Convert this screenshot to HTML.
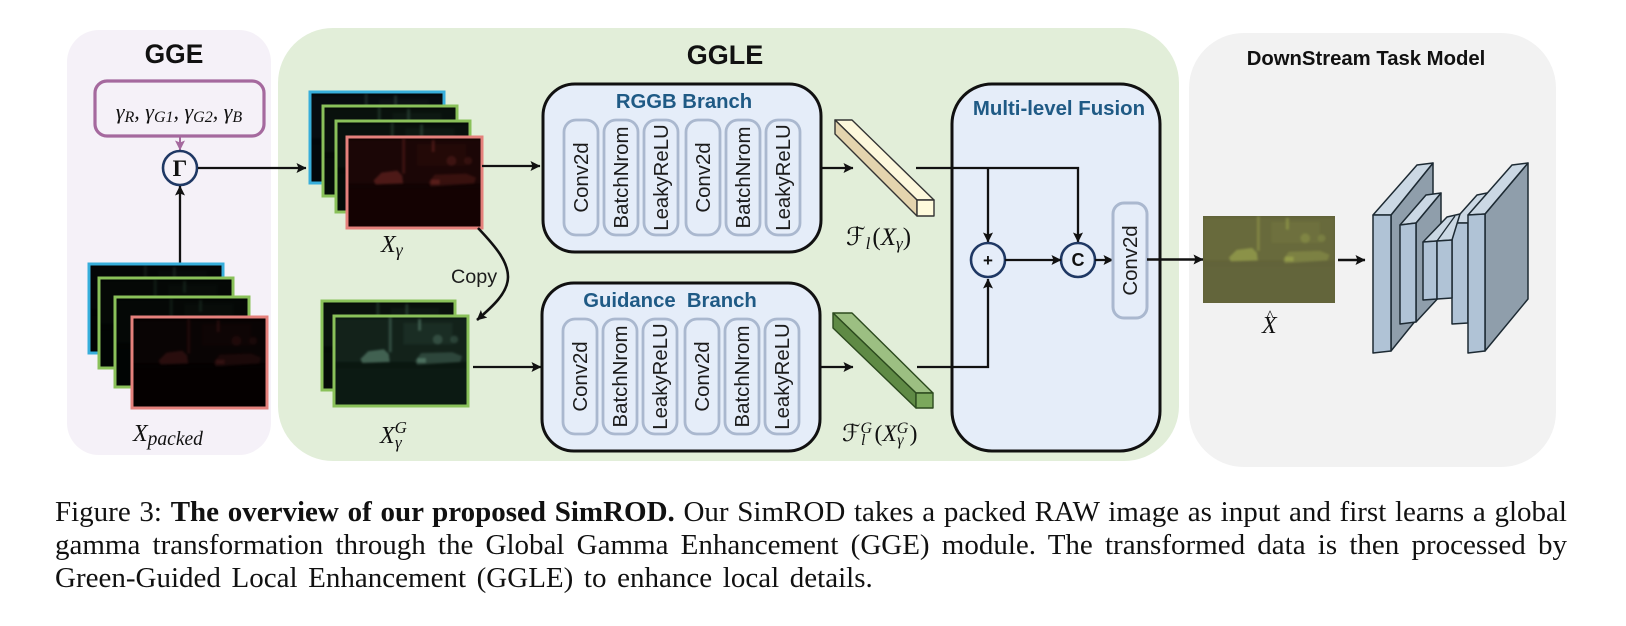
<!DOCTYPE html>
<html><head><meta charset="utf-8">
<style>
html,body{margin:0;padding:0;background:#fff;width:1626px;height:626px;overflow:hidden}
svg{position:absolute;left:0;top:0}
.cap{position:absolute;left:55px;width:1512px;font:29px/33px "Liberation Serif",serif;color:#111;text-align:justify;text-align-last:justify;white-space:nowrap}
.s{font-family:"Liberation Sans",sans-serif}
.m{font-family:"Liberation Serif","DejaVu Serif",serif;font-style:italic;fill:#111}
.t{font-family:"Liberation Sans",sans-serif;font-weight:bold;fill:#111}
.b{font-family:"Liberation Sans",sans-serif;font-weight:bold;fill:#1f5a85}
.p{fill:#e5edf9;stroke:#aab8cf;stroke-width:2.8}
.l{font-family:"Liberation Sans",sans-serif;font-size:20.4px;fill:#1c1c1c}
.box{fill:#e5edf9;stroke:#111;stroke-width:3}
.ln{fill:none;stroke:#111;stroke-width:2.3}
.c{fill:#e5edf9;stroke:#1f3864;stroke-width:2.6}
.f{fill:#b0c3d6;stroke:#1d2a33;stroke-width:1.5;stroke-linejoin:round}
.tp{fill:#cbd8e4;stroke:#1d2a33;stroke-width:1.5;stroke-linejoin:round}
.sd{fill:#8f9eab;stroke:#1d2a33;stroke-width:1.5;stroke-linejoin:round}
</style></head><body>
<svg width="1626" height="626" viewBox="0 0 1626 626" xmlns="http://www.w3.org/2000/svg">
<defs>
<filter id="bl" x="-10%" y="-10%" width="120%" height="120%"><feGaussianBlur stdDeviation="1.1"/></filter>
<marker id="a" viewBox="0 0 10 10" refX="9.5" refY="5" markerWidth="10" markerHeight="10" markerUnits="userSpaceOnUse" orient="auto"><path d="M0 0L10 5L0 10L2 5Z" fill="#111"/></marker>
<marker id="ap" viewBox="0 0 10 10" refX="9.5" refY="5" markerWidth="10" markerHeight="10" markerUnits="userSpaceOnUse" orient="auto"><path d="M0 0L10 5L0 10L2 5Z" fill="#a5699e"/></marker>
<symbol id="sc" viewBox="0 0 135 90" overflow="hidden">
<g filter="url(#bl)" fill="currentColor">
<rect x="55" y="0" width="3" height="36" opacity=".4"/>
<rect x="85" y="2" width="3" height="12" opacity=".5"/>
<rect x="0" y="2" width="135" height="44" opacity=".1"/>
<path d="M26 43L34 35L50 33L55 38L56 46L28 47Z" opacity=".6"/>
<path d="M82 45L88 37L120 36L130 40L128 46L84 49Z" opacity=".35"/>
<rect x="84" y="42" width="9" height="5" opacity=".6"/>
<circle cx="105" cy="23" r="5" opacity=".35"/><circle cx="122" cy="23" r="4" opacity=".3"/>
<rect x="70" y="6" width="50" height="22" opacity=".1"/>
<rect x="0" y="52" width="135" height="38" opacity=".03"/>
</g>
</symbol>
</defs>

<!-- panels -->
<rect x="67" y="30" width="204" height="425" rx="32" fill="#f5f1f8"/>
<rect x="278" y="28" width="901" height="433" rx="55" fill="#e2eed9"/>
<rect x="1189" y="33" width="367" height="434" rx="55" fill="#f2f2f2"/>
<text x="174" y="63" text-anchor="middle" class="t" font-size="26.400">GGE</text>
<text x="725" y="64" text-anchor="middle" class="t" font-size="27">GGLE</text>
<text x="1366" y="65" text-anchor="middle" class="t" font-size="20.300">DownStream Task Model</text>

<!-- gamma -->
<rect x="95" y="81" width="169" height="55" rx="12" fill="#f5f1f8" stroke="#a5699e" stroke-width="3.2"/>
<text x="179" y="119" text-anchor="middle" class="m" font-size="22">γ<tspan font-size="16" dy="3">R</tspan><tspan dy="-3">, γ</tspan><tspan font-size="16" dy="3">G1</tspan><tspan dy="-3">, γ</tspan><tspan font-size="16" dy="3">G2</tspan><tspan dy="-3">, γ</tspan><tspan font-size="16" dy="3">B</tspan></text>
<line x1="180" y1="136" x2="180" y2="150" stroke="#a5699e" stroke-width="2" marker-end="url(#ap)"/>
<circle cx="180" cy="168" r="17" fill="#f5f1f8" stroke="#1f3864" stroke-width="2.6"/>
<text x="180" y="176" text-anchor="middle" font-family="Liberation Serif,serif" font-weight="bold" font-size="23" fill="#111">Γ</text>
<line class="ln" x1="180" y1="263" x2="180" y2="186" marker-end="url(#a)"/>
<line class="ln" x1="198" y1="168" x2="306" y2="168" marker-end="url(#a)"/>

<!-- X packed stack -->
<g stroke-width="3">
<rect x="89" y="264" width="134" height="89" fill="#010203" stroke="#37aedb"/>
<svg x="90" y="265" width="132" height="87" color="#5a7a68" opacity=".4"><use href="#sc" width="132" height="87"/></svg>
<rect x="99" y="278" width="134" height="90" fill="#020403" stroke="#8ac15a"/>
<svg x="100" y="279" width="132" height="88" color="#4a7a5c" opacity=".4"><use href="#sc" width="132" height="88"/></svg>
<rect x="115" y="297" width="134" height="90" fill="#020403" stroke="#8ac15a"/>
<svg x="116" y="298" width="132" height="88" color="#4a7a5c" opacity=".4"><use href="#sc" width="132" height="88"/></svg>
<rect x="132" y="317" width="135" height="91" fill="#040101" stroke="#e5817c"/>
<svg x="133" y="318" width="133" height="89" color="#6e2424" opacity=".55"><use href="#sc" width="133" height="89"/></svg>
</g>
<text x="133" y="441" class="m" font-size="24">X<tspan font-size="19.500" dy="4">packed</tspan></text>

<!-- X gamma stack -->
<g stroke-width="3">
<rect x="310" y="92" width="134" height="91" fill="#02060a" stroke="#37aedb"/>
<svg x="311" y="93" width="132" height="89" color="#5a7a68" opacity=".6"><use href="#sc" width="132" height="89"/></svg>
<rect x="323" y="106" width="134" height="90" fill="#040a07" stroke="#8ac15a"/>
<svg x="324" y="107" width="132" height="88" color="#5a8a6c" opacity=".6"><use href="#sc" width="132" height="88"/></svg>
<rect x="336" y="121" width="134" height="91" fill="#040a07" stroke="#8ac15a"/>
<svg x="337" y="122" width="132" height="89" color="#5a8a6c" opacity=".6"><use href="#sc" width="132" height="89"/></svg>
<rect x="347" y="137" width="135" height="91" fill="#120303" stroke="#e5817c"/>
<svg x="348" y="138" width="133" height="89" color="#a03a34" opacity=".65"><use href="#sc" width="133" height="89"/></svg>
</g>
<text x="381" y="252" class="m" font-size="24">X<tspan font-size="18" dy="4">γ</tspan></text>
<path class="ln" style="stroke-width:2.6" d="M478 228C497 248 508 262 508 277C508 293 492 307 477 320" marker-end="url(#a)"/>
<text x="451" y="283" class="s" font-size="19.800" fill="#1c1c1c">Copy</text>

<!-- X G stack -->
<g stroke-width="3">
<rect x="322" y="301" width="133" height="89" fill="#040a07" stroke="#8ac15a"/>
<svg x="323" y="302" width="131" height="87" color="#5a8a6c" opacity=".6"><use href="#sc" width="131" height="87"/></svg>
<rect x="334" y="316" width="134" height="90" fill="#0a1710" stroke="#8ac15a"/>
<svg x="335" y="317" width="132" height="88" color="#7fb39a" opacity=".75"><use href="#sc" width="132" height="88"/></svg>
</g>
<text x="380" y="443" class="m" font-size="24">X<tspan font-size="17" dy="-10">G</tspan><tspan font-size="17" dx="-12" dy="15">γ</tspan></text>

<line class="ln" x1="482" y1="166" x2="540" y2="166" marker-end="url(#a)"/>
<line class="ln" x1="473" y1="367" x2="541" y2="367" marker-end="url(#a)"/>

<!-- RGGB -->
<rect class="box" x="543" y="84" width="278" height="168" rx="32"/>
<text x="684" y="108" text-anchor="middle" class="b" font-size="20.300">RGGB Branch</text>
<g>
<rect class="p" x="564" y="120" width="34" height="115" rx="12"/>
<rect class="p" x="604" y="120" width="34" height="115" rx="12"/>
<rect class="p" x="644" y="120" width="34" height="115" rx="12"/>
<rect class="p" x="686" y="120" width="34" height="115" rx="12"/>
<rect class="p" x="726" y="120" width="34" height="115" rx="12"/>
<rect class="p" x="766" y="120" width="34" height="115" rx="12"/>
<text class="l" transform="translate(588,177.500) rotate(-90)" text-anchor="middle">Conv2d</text>
<text class="l" transform="translate(628,177.500) rotate(-90)" text-anchor="middle">BatchNrom</text>
<text class="l" transform="translate(668,177.500) rotate(-90)" text-anchor="middle">LeakyReLU</text>
<text class="l" transform="translate(710,177.500) rotate(-90)" text-anchor="middle">Conv2d</text>
<text class="l" transform="translate(750,177.500) rotate(-90)" text-anchor="middle">BatchNrom</text>
<text class="l" transform="translate(790,177.500) rotate(-90)" text-anchor="middle">LeakyReLU</text>
</g>

<!-- Guidance -->
<rect class="box" x="542" y="283" width="278" height="168" rx="32"/>
<text x="670" y="307" text-anchor="middle" class="b" font-size="20.300" xml:space="preserve">Guidance  Branch</text>
<g>
<rect class="p" x="563" y="319" width="34" height="115" rx="12"/>
<rect class="p" x="603" y="319" width="34" height="115" rx="12"/>
<rect class="p" x="643" y="319" width="34" height="115" rx="12"/>
<rect class="p" x="685" y="319" width="34" height="115" rx="12"/>
<rect class="p" x="725" y="319" width="34" height="115" rx="12"/>
<rect class="p" x="765" y="319" width="34" height="115" rx="12"/>
<text class="l" transform="translate(587,376.500) rotate(-90)" text-anchor="middle">Conv2d</text>
<text class="l" transform="translate(627,376.500) rotate(-90)" text-anchor="middle">BatchNrom</text>
<text class="l" transform="translate(667,376.500) rotate(-90)" text-anchor="middle">LeakyReLU</text>
<text class="l" transform="translate(709,376.500) rotate(-90)" text-anchor="middle">Conv2d</text>
<text class="l" transform="translate(749,376.500) rotate(-90)" text-anchor="middle">BatchNrom</text>
<text class="l" transform="translate(789,376.500) rotate(-90)" text-anchor="middle">LeakyReLU</text>
</g>

<line class="ln" x1="821" y1="168" x2="853" y2="168" marker-end="url(#a)"/>
<line class="ln" x1="820" y1="367" x2="853" y2="367" marker-end="url(#a)"/>

<!-- Multi-level -->
<rect class="box" x="952" y="84" width="208" height="367" rx="40" stroke-width="3.2"/>
<text x="1059" y="115" text-anchor="middle" class="b" font-size="20.400">Multi-level Fusion</text>

<!-- prisms -->
<g stroke="#333" stroke-width="1.4" stroke-linejoin="round">
<polygon points="835,120 852,120 934,200 917,200" fill="#fdf8dc"/>
<polygon points="835,120 917,200 917,216 835,134" fill="#e4d4ae"/>
<rect x="917" y="200" width="17" height="16" fill="#fffbdc"/>
</g>
<g stroke="#2c4a1e" stroke-width="1.4" stroke-linejoin="round">
<polygon points="833,313 852,313 933,393 916,393" fill="#9cbf82"/>
<polygon points="833,313 916,393 916,408 833,328" fill="#5f8a45"/>
<rect x="916" y="393" width="17" height="15" fill="#7ba85c"/>
</g>
<text x="846" y="245" class="m" font-size="25"><tspan font-family="DejaVu Sans,sans-serif" font-style="normal">ℱ</tspan><tspan font-size="17" dy="4">l</tspan><tspan dx="2" dy="-4" font-style="normal">(</tspan>X<tspan font-size="17" dy="4">γ</tspan><tspan dy="-4" font-style="normal">)</tspan></text>
<text x="842" y="441" class="m" font-size="23.500"><tspan font-family="DejaVu Sans,sans-serif" font-style="normal">ℱ</tspan><tspan font-size="16" dy="-8">G</tspan><tspan font-size="16" dx="-11" dy="12">l</tspan><tspan dx="9" dy="-4" font-style="normal">(</tspan>X<tspan font-size="16" dy="-8">G</tspan><tspan font-size="16" dx="-11" dy="12">γ</tspan><tspan dx="6" dy="-4" font-style="normal">)</tspan></text>

<!-- fusion lines -->
<path class="ln" d="M916 168H1078V242" marker-end="url(#a)"/>
<path class="ln" d="M988 168V242" marker-end="url(#a)"/>
<path class="ln" d="M917 367H988V279" marker-end="url(#a)"/>
<circle class="c" cx="988" cy="260" r="17"/>
<circle class="c" cx="1078" cy="260" r="17"/>
<text x="988" y="266" text-anchor="middle" class="t" font-size="17">+</text>
<text x="1078" y="266" text-anchor="middle" class="t" font-size="18">C</text>
<line class="ln" x1="1005" y1="260" x2="1061" y2="260" marker-end="url(#a)"/>
<line class="ln" x1="1095" y1="260" x2="1113" y2="260" marker-end="url(#a)"/>
<rect class="p" x="1113" y="203" width="34" height="115" rx="11" style="stroke-width:3"/>
<text class="l" transform="translate(1137,260.500) rotate(-90)" text-anchor="middle">Conv2d</text>
<line class="ln" style="stroke-width:2.6" x1="1147" y1="259.500" x2="1203" y2="259.500" marker-end="url(#a)"/>

<!-- output -->
<rect x="1203" y="216" width="132" height="87" fill="#62633a"/>
<svg x="1203" y="216" width="132" height="87" color="#aab552" opacity=".9"><use href="#sc" width="132" height="87"/></svg>
<text x="1262" y="333" class="m" font-size="24">X</text>
<text x="1270" y="321" class="m" font-size="16" text-anchor="middle" style="font-style:normal">^</text>
<line class="ln" style="stroke-width:2.6" x1="1338" y1="260" x2="1365" y2="260" marker-end="url(#a)"/>

<!-- U-Net -->
<polygon class="sd" points="1391,215 1433,163 1433,299 1391,351"/>
<polygon class="tp" points="1373,215 1417,165 1433,163 1391,215"/>
<polygon class="f" points="1373,215 1391,215 1391,351 1373,353"/>
<polygon class="sd" points="1416,223 1441,193 1441,295 1416,322"/>
<polygon class="tp" points="1400,225 1426,195 1441,193 1416,223"/>
<polygon class="f" points="1400,225 1416,223 1416,322 1400,324"/>
<polygon class="tp" points="1477,195 1487,193 1468,223 1452,223"/>
<polygon class="f" points="1452,223 1468,223 1468,323 1452,324"/>
<polygon class="tp" points="1423,242 1447,217 1460,214 1452,240 1437,241"/>
<line x1="1437" y1="241" x2="1455" y2="216" stroke="#1d2a33" stroke-width="1.3"/>
<polygon class="f" points="1423,242 1437,241 1437,299 1423,300"/>
<polygon class="f" points="1437,241 1452,240 1452,298 1437,299"/>
<polygon class="sd" points="1485,214 1528,163 1528,299 1485,351"/>
<polygon class="tp" points="1468,215 1512,165 1528,163 1485,214"/>
<polygon class="f" points="1468,215 1485,214 1485,351 1468,353"/>
</svg>
<div class="cap" style="top:496px">Figure 3: <b>The overview of our proposed SimROD.</b> Our SimROD takes a packed RAW image as input and first learns a global</div>
<div class="cap" style="top:529px">gamma transformation through the Global Gamma Enhancement (GGE) module. The transformed data is then processed by</div>
<div class="cap" style="top:562px;text-align-last:left;word-spacing:3.4px">Green-Guided Local Enhancement (GGLE) to enhance local details.</div>
</body></html>
